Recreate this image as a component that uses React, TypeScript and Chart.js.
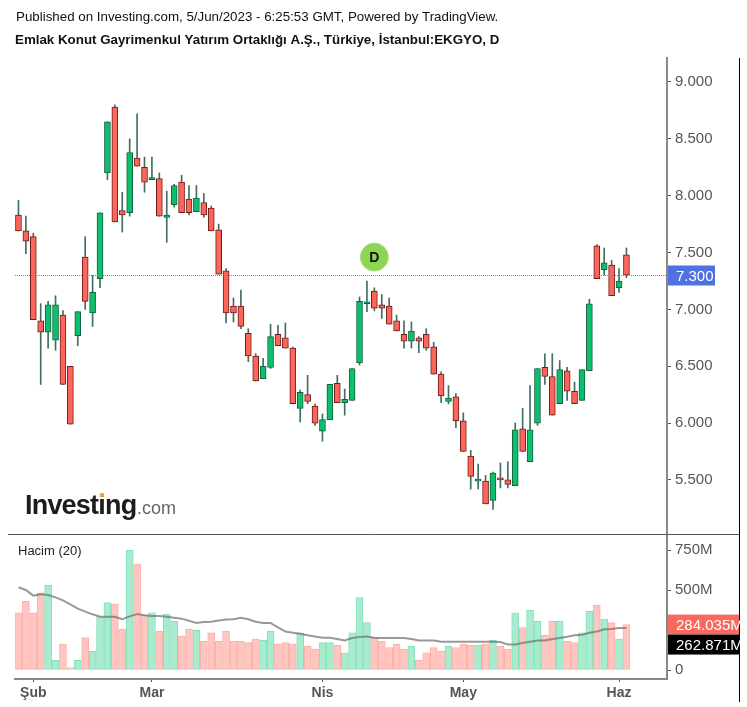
import React, { useEffect, useRef } from "react";
import { Chart, registerables } from "chart.js";

Chart.register(...registerables);

const FONT = '"Liberation Sans", Arial, sans-serif';

const opens = [7.83,7.69,7.64,6.90,6.80,6.73,6.95,6.50,6.77,7.46,6.97,7.27,8.20,8.78,7.87,7.85,8.33,8.25,8.14,8.15,7.81,7.92,8.12,7.97,7.86,7.94,7.89,7.70,7.34,7.03,7.03,6.79,6.59,6.39,6.49,6.78,6.75,6.66,6.13,6.25,6.15,5.93,6.03,6.35,6.18,6.20,6.53,7.05,7.16,7.04,7.03,6.90,6.78,6.72,6.75,6.78,6.67,6.43,6.19,6.23,6.02,5.71,5.49,5.49,5.32,5.51,5.50,5.45,5.95,5.66,6.00,6.49,6.41,6.17,6.46,6.28,6.20,6.46,7.56,7.35,7.39,7.19,7.48];
const closes = [7.69,7.60,6.91,6.80,7.04,7.04,6.34,5.99,6.98,7.07,7.15,7.85,8.65,7.77,7.83,8.38,8.26,8.12,8.16,7.82,7.83,8.09,7.85,7.85,7.98,7.83,7.69,7.31,6.97,6.97,6.85,6.59,6.37,6.50,6.76,6.68,6.66,6.17,6.27,6.19,6.00,6.03,6.34,6.18,6.21,6.48,7.07,7.06,7.01,7.01,6.87,6.81,6.72,6.81,6.72,6.66,6.43,6.24,6.22,6.02,5.75,5.53,5.50,5.29,5.56,5.50,5.46,5.94,5.75,5.94,6.48,6.41,6.07,6.47,6.28,6.17,6.47,7.05,7.27,7.41,7.12,7.25,7.30];
const highs = [7.96,7.82,7.67,7.05,7.07,7.12,6.99,6.50,6.98,7.64,7.30,7.85,8.65,8.80,8.03,8.50,8.72,8.34,8.34,8.20,8.04,8.10,8.18,8.09,8.09,8.02,7.91,7.75,7.36,7.10,7.17,6.83,6.61,6.57,6.87,6.86,6.88,6.67,6.29,6.42,6.17,6.08,6.34,6.42,6.30,6.48,7.11,7.25,7.19,7.13,7.10,6.95,6.90,6.89,6.76,6.83,6.71,6.45,6.33,6.26,6.09,5.76,5.64,5.54,5.57,5.65,5.66,6.00,6.13,6.33,6.48,6.61,6.61,6.55,6.49,6.36,6.47,7.09,7.57,7.54,7.43,7.36,7.54];
const lows = [7.69,7.49,6.91,6.34,6.66,6.64,6.34,5.99,6.68,7.00,6.85,7.19,8.14,7.77,7.68,7.82,8.26,8.03,8.14,7.82,7.59,7.90,7.85,7.83,7.86,7.81,7.69,7.31,6.88,6.89,6.83,6.54,6.37,6.39,6.48,6.68,6.66,6.17,6.01,6.17,5.98,5.84,6.03,6.18,6.07,6.20,6.51,6.98,6.99,6.92,6.87,6.81,6.66,6.66,6.62,6.64,6.43,6.18,6.17,5.96,5.75,5.42,5.42,5.29,5.24,5.43,5.43,5.45,5.75,5.66,5.98,6.34,6.07,6.17,6.20,6.17,6.20,6.46,7.27,7.30,7.12,7.15,7.28];

const volumes = [358,429,358,483,529,60,162,15,60,202,117,333,421,412,256,748,662,342,358,242,350,304,210,256,248,179,233,179,242,179,179,171,194,185,242,162,171,162,233,148,131,171,171,154,108,233,452,296,202,179,140,162,131,148,60,108,140,117,148,140,162,154,154,162,185,148,131,358,265,373,304,217,304,304,179,171,233,367,404,319,296,194,284.035];
const volumeAverage = [517,500,465,473,469,454,435,410,383,365,348,333,333,333,317,335,350,342,338,338,333,327,321,308,294,300,302,310,315,317,327,317,302,294,294,267,240,233,227,217,210,202,202,194,185,200,206,210,202,200,200,200,200,194,185,185,185,177,177,177,177,177,177,177,177,175,160,160,169,177,185,185,194,200,208,217,221,233,240,254,256,262,262.871];

const tickLabels = ["Şub", "Mar", "Nis", "May", "Haz"];
const tickIndices = [2, 18, 41, 60, 81];
const lastPrice = 7.3;
const lastVolume = 284.035;
const lastAverage = 262.871;
const markerIndex = 48;
const markerPrice = 7.46;

const headerLine = "Published on Investing.com, 5/Jun/2023 - 6:25:53 GMT, Powered by TradingView.";
const titleLine = "Emlak Konut Gayrimenkul Yatırım Ortaklığı A.Ş., Türkiye, İstanbul:EKGYO, D";

const UP = { fill: "#0cbf6d", border: "#14603f", volFill: "#a9ebcf", volBorder: "#82e2b8" };
const DOWN = { fill: "#fb655a", border: "#6e1d1b", volFill: "#ffc6c1", volBorder: "#ffaea8" };
const side = (i: number) => (closes[i] >= opens[i] ? UP : DOWN);

const overlay = {
  id: "overlay",
  afterDatasetsDraw(chart: any) {
    const { ctx, scales, chartArea } = chart;
    const y = scales.y;
    const v = scales.vol;
    ctx.save();
    const yLast = Math.round(y.getPixelForValue(lastPrice)) + 0.5;
    ctx.strokeStyle = "#5f80f0";
    ctx.lineWidth = 1;
    ctx.setLineDash([1, 1]);
    ctx.beginPath();
    ctx.moveTo(chartArea.left, yLast);
    ctx.lineTo(chartArea.right, yLast);
    ctx.stroke();
    ctx.setLineDash([]);
    ctx.strokeStyle = "#555";
    ctx.beginPath();
    ctx.moveTo(8, 534.5);
    ctx.lineTo(739, 534.5);
    ctx.stroke();
    ctx.strokeStyle = "#000";
    ctx.beginPath();
    ctx.moveTo(739.5, 58);
    ctx.lineTo(739.5, 702);
    ctx.stroke();
    ctx.textBaseline = "middle";
    ctx.textAlign = "left";
    ctx.font = `15px ${FONT}`;
    ctx.fillStyle = "#4f72e3";
    ctx.fillRect(668, yLast - 10, 47, 20);
    ctx.fillStyle = "#fff";
    ctx.fillText(lastPrice.toFixed(3), 676, yLast + 1);
    const yVol = v.getPixelForValue(lastVolume);
    ctx.fillStyle = "#f9695d";
    ctx.fillRect(668, yVol - 10, 71, 20);
    ctx.fillStyle = "#fff";
    ctx.fillText(lastVolume.toFixed(3) + "M", 676, yVol + 1);
    ctx.fillStyle = "#000";
    ctx.fillRect(668, yVol + 10, 71, 20);
    ctx.fillStyle = "#fff";
    ctx.fillText(lastAverage.toFixed(3) + "M", 676, yVol + 21);
    const pt = chart.getDatasetMeta(0).data[0];
    ctx.fillStyle = "#111";
    ctx.textAlign = "center";
    ctx.font = `bold 14px ${FONT}`;
    ctx.fillText("D", pt.x, pt.y + 1);
    ctx.textAlign = "left";
    ctx.textBaseline = "alphabetic";
    ctx.fillStyle = "#111";
    ctx.font = `13.33px ${FONT}`;
    ctx.fillText(headerLine, 16, 21);
    ctx.font = `bold 13.33px ${FONT}`;
    ctx.fillText(titleLine, 15, 44);
    ctx.fillStyle = "#222";
    ctx.font = `13px ${FONT}`;
    ctx.fillText("Hacim (20)", 18, 555);
    ctx.fillStyle = "#1c1c1c";
    ctx.font = `bold 27px ${FONT}`;
    (ctx as any).letterSpacing = "-0.8px";
    ctx.fillText("Investing", 25, 514);
    (ctx as any).letterSpacing = "0px";
    ctx.fillStyle = "#666";
    ctx.font = `18px ${FONT}`;
    ctx.fillText(".com", 137, 514);
    ctx.fillStyle = "#f5a623";
    ctx.beginPath();
    ctx.arc(102, 495, 2.2, 0, Math.PI * 2);
    ctx.fill();
    ctx.restore();
  },
};

export default function App() {
  const ref = useRef<HTMLCanvasElement>(null);
  useEffect(() => {
    const n = opens.length;
    const idx = Array.from({ length: n }, (_, i) => i);
    const chart = new Chart(ref.current!, {
      type: "bar",
      data: {
        datasets: [
          {
            type: "scatter",
            data: [{ x: markerIndex, y: markerPrice }],
            yAxisID: "y",
            pointRadius: 14,
            pointHoverRadius: 14,
            backgroundColor: "#8dd653",
            borderColor: "#a3df78",
            borderWidth: 1,
            order: 0,
          },
          {
            type: "line",
            data: idx.map((i) => ({ x: i, y: volumeAverage[i] })),
            yAxisID: "vol",
            borderColor: "rgba(110,110,110,0.7)",
            borderWidth: 2,
            pointRadius: 0,
            tension: 0,
            order: 1,
          },
          {
            data: idx.map((i) => ({ x: i, y: [opens[i], closes[i]] })),
            yAxisID: "y",
            grouped: false,
            barThickness: 6,
            borderWidth: 1,
            borderSkipped: false,
            minBarLength: 2,
            backgroundColor: idx.map((i) => side(i).fill),
            borderColor: idx.map((i) => side(i).border),
            order: 2,
          },
          {
            data: idx.map((i) => ({ x: i, y: [lows[i], highs[i]] })),
            yAxisID: "y",
            grouped: false,
            barThickness: 1,
            backgroundColor: "#3f6f5e",
            order: 3,
          },
          {
            data: idx.map((i) => ({ x: i, y: volumes[i] })),
            yAxisID: "vol",
            grouped: false,
            barThickness: 7,
            borderWidth: 1,
            borderSkipped: false,
            backgroundColor: idx.map((i) => side(i).volFill),
            borderColor: idx.map((i) => side(i).volBorder),
            order: 4,
          },
        ],
      } as any,
      options: {
        responsive: false,
        animation: false,
        layout: { padding: { left: 8, right: 8, top: 58, bottom: 0 } },
        plugins: { legend: { display: false }, tooltip: { enabled: false } },
        scales: {
          x: {
            type: "linear",
            offset: false,
            min: -0.467,
            max: 87.47,
            afterBuildTicks: (axis: any) => {
              axis.ticks = tickIndices.map((value) => ({ value }));
            },
            afterFit: (axis: any) => {
              axis.height = 28;
              axis.paddingLeft = 0;
              axis.paddingRight = 0;
            },
            border: { color: "#888", width: 2 },
            grid: { offset: false, drawOnChartArea: false, color: "#555", tickLength: 3 },
            ticks: {
              autoSkip: false,
              maxRotation: 0,
              padding: 3,
              color: "#555",
              font: { family: FONT, size: 14, weight: "bold" },
              callback: (value: any) => tickLabels[tickIndices.indexOf(Number(value))] ?? "",
            },
          },
          y: {
            type: "linear",
            position: "right",
            stack: "panes",
            stackWeight: 476,
            min: 5.0246,
            max: 9.211,
            afterFit: (axis: any) => {
              axis.width = 72;
            },
            border: { color: "#888", width: 2 },
            grid: { drawOnChartArea: false, color: "#555", tickLength: 4 },
            ticks: {
              stepSize: 0.5,
              includeBounds: false,
              padding: 4,
              color: "#555",
              font: { family: FONT, size: 15 },
              callback: (value: any) => Number(value).toFixed(3),
            },
          },
          vol: {
            type: "linear",
            position: "right",
            stack: "panes",
            stackWeight: 145,
            min: -56.25,
            max: 850,
            afterFit: (axis: any) => {
              axis.width = 72;
            },
            border: { color: "#888", width: 2 },
            grid: { drawOnChartArea: false, color: "#555", tickLength: 4 },
            ticks: {
              stepSize: 250,
              includeBounds: false,
              padding: 4,
              color: "#555",
              font: { family: FONT, size: 15 },
              callback: (value: any) => (Number(value) === 0 ? "0" : `${value}M`),
            },
          },
        },
      } as any,
      plugins: [overlay],
    });
    return () => chart.destroy();
  }, []);
  return (
    <div style={{ position: "absolute", left: 0, top: 0, width: 747, height: 707 }}>
      <canvas ref={ref} width={747} height={707} style={{ display: "block" }} />
    </div>
  );
}
